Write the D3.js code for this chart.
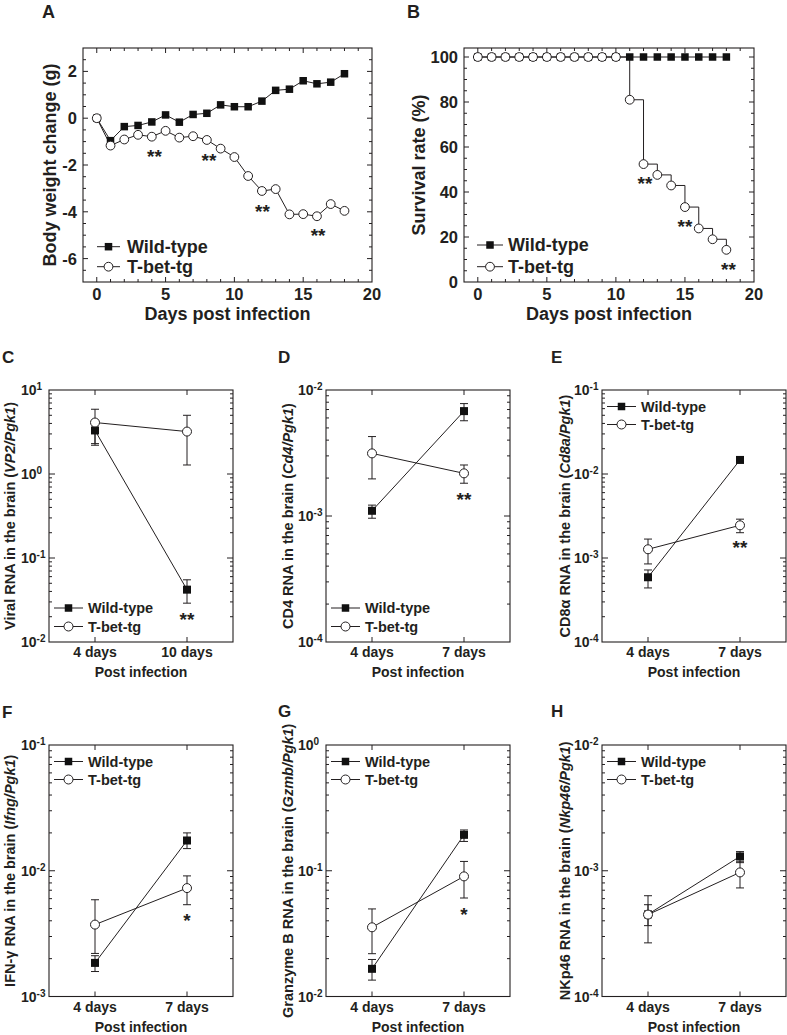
<!DOCTYPE html>
<html><head><meta charset="utf-8">
<script src="https://cdn.jsdelivr.net/npm/d3@7"></script>
<style>
body{margin:0;background:#fff}
svg{display:block}
text{font-family:"Liberation Sans",Arial,Helvetica,sans-serif;font-weight:bold;fill:#231f20}
</style>
</head><body>
<svg id="fig" width="787" height="1035"></svg>
<script>
// ---------------- DATA ----------------
const days = [0,1,2,3,4,5,6,7,8,9,10,11,12,13,14,15,16,17,18];
const weightWT = [0,-0.96,-0.36,-0.31,-0.16,0.14,-0.17,0.16,0.21,0.57,0.49,0.49,0.73,1.19,1.24,1.6,1.47,1.54,1.9];
const weightTg = [0,-1.17,-0.91,-0.71,-0.79,-0.54,-0.83,-0.77,-0.93,-1.3,-1.66,-2.47,-3.11,-3.03,-4.11,-4.1,-4.19,-3.67,-3.96];
const survWT = [100,100,100,100,100,100,100,100,100,100,100,100,100,100,100,100,100,100,100];
const survTg = [100,100,100,100,100,100,100,100,100,100,100,81,52.4,47.6,42.9,33.3,23.8,19.0,14.3];
const sigA = [{d:4.19,v:-1.44,t:"**"},{d:8.15,v:-1.62,t:"**"},{d:12.04,v:-3.8,t:"**"},{d:16.08,v:-4.82,t:"**"}];
const sigB = [{d:12.1,v:45.8,t:"**"},{d:15.0,v:26.8,t:"**"},{d:18.15,v:7.6,t:"**"}];
const seriesNames = ["Wild-type","T-bet-tg"];

const timesC = ["4 days","10 days"];
const timesDH = ["4 days","7 days"];

const viralWT = [3.3, 0.042],   viralWTlo = [2.2, 0.029],   viralWThi = [4.4, 0.055];
const viralTg = [4.1, 3.2],     viralTglo = [2.3, 1.28],    viralTghi = [5.9, 5.0];
const cd4WT = [1.1e-3, 6.8e-3], cd4WTlo = [0.96e-3, 5.7e-3], cd4WThi = [1.22e-3, 7.8e-3];
const cd4Tg = [3.14e-3, 2.18e-3], cd4Tglo = [1.97e-3, 1.82e-3], cd4Tghi = [4.27e-3, 2.54e-3];
const cd8WT = [5.9e-4, 1.47e-2], cd8WTlo = [4.4e-4, 1.42e-2], cd8WThi = [7.2e-4, 1.52e-2];
const cd8Tg = [1.27e-3, 2.45e-3], cd8Tglo = [8.5e-4, 2.0e-3], cd8Tghi = [1.68e-3, 2.9e-3];
const ifngWT = [1.85e-3, 1.74e-2], ifngWTlo = [1.58e-3, 1.5e-2], ifngWThi = [2.11e-3, 2.0e-2];
const ifngTg = [3.73e-3, 7.28e-3], ifngTglo = [2.2e-3, 5.37e-3], ifngTghi = [5.88e-3, 9.1e-3];
const gzmbWT = [1.66e-2, 0.193], gzmbWTlo = [1.35e-2, 0.171], gzmbWThi = [1.97e-2, 0.211];
const gzmbTg = [3.55e-2, 0.0902], gzmbTglo = [2.19e-2, 0.0607], gzmbTghi = [4.97e-2, 0.1186];
const nkWT = [4.5e-4, 1.3e-3], nkWTlo = [3.66e-4, 1.16e-3], nkWThi = [5.37e-4, 1.42e-3];
const nkTg = [4.48e-4, 9.7e-4], nkTglo = [2.67e-4, 7.3e-4], nkTghi = [6.33e-4, 1.19e-3];

// ---------------- HELPERS ----------------
const INK = "#231f20";
const svg = d3.select("#fig");

function txt(g, x, y, s, fs, anchor) {
  return g.append("text").attr("x", x).attr("y", y).attr("font-size", fs)
    .attr("text-anchor", anchor || "start").text(s);
}
function frame(g, b) {
  g.append("rect").attr("x", b.x0).attr("y", b.y0).attr("width", b.x1 - b.x0).attr("height", b.y1 - b.y0)
    .attr("fill", "none").attr("stroke", INK).attr("stroke-width", 1.1);
}
function tickPath(g, d) {
  g.append("path").attr("d", d).attr("fill", "none").attr("stroke", INK).attr("stroke-width", 1);
}
function square(g, cx, cy, s) {
  g.append("rect").attr("x", cx - s / 2).attr("y", cy - s / 2).attr("width", s).attr("height", s).attr("fill", "#111");
}
function ring(g, cx, cy, r) {
  g.append("circle").attr("cx", cx).attr("cy", cy).attr("r", r).attr("fill", "#fff").attr("stroke", INK).attr("stroke-width", 1);
}
function legend(g, lx0, lx1, rows, tx, fs, sq, r) {
  rows.forEach((ry, i) => {
    g.append("line").attr("x1", lx0).attr("x2", lx1).attr("y1", ry).attr("y2", ry).attr("stroke", INK).attr("stroke-width", 1);
    const mx = (lx0 + lx1) / 2;
    if (i === 0) square(g, mx, ry, sq); else ring(g, mx, ry, r);
    txt(g, tx, ry + fs * 0.36, seriesNames[i], fs);
  });
}
function stars(g, x, y, s, fs) {
  txt(g, x, y + fs * 0.58, s, fs, "middle");
}
function rotTitle(g, bx, cy, fs, parts) {
  const t = g.append("text").attr("transform", `translate(${bx},${cy}) rotate(-90)`)
    .attr("text-anchor", "middle").attr("font-size", fs);
  parts.forEach(p => {
    const ts = t.append("tspan").text(p.s);
    if (p.i) ts.attr("font-style", "italic");
  });
}

// ---------------- LINEAR PANELS (A, B) ----------------
function linearPanel(cfg) {
  const g = svg.append("g");
  const b = cfg.box;
  const x = d3.scaleLinear().domain(cfg.xdom).range([b.x0, b.x1]);
  const y = d3.scaleLinear().domain(cfg.ydom).range([b.y1, b.y0]);
  frame(g, b);
  let d = "";
  x.ticks(21).filter(v => v >= 0 && v < cfg.xdom[1]).forEach(v => {
    const L = v % 5 === 0 ? 5 : 3, X = x(v);
    d += `M${X},${b.y1}V${b.y1 - L}M${X},${b.y0}V${b.y0 + L}`;
  });
  cfg.yminor.filter(v => v > cfg.ydom[0] && v < cfg.ydom[1]).forEach(v => {
    const L = cfg.ymajor.includes(v) ? 5 : 3, Y = y(v);
    d += `M${b.x0},${Y}H${b.x0 + L}M${b.x1},${Y}H${b.x1 - L}`;
  });
  tickPath(g, d);
  cfg.ymajor.forEach(v => txt(g, b.x0 - 6, y(v) + 6, String(v), 16.5, "end"));
  x.ticks(5).forEach(v => txt(g, x(v), b.y1 + 18, String(v), 16.5, "middle"));
  txt(g, (b.x0 + b.x1) / 2, b.y1 + 38, "Days post infection", 18, "middle");
  rotTitle(g, cfg.titleX, (b.y0 + b.y1) / 2, 18, [{s: cfg.ytitle}]);
  txt(g, cfg.lab[0], cfg.lab[1], cfg.lab[2], 18);

  const curve = cfg.step ? d3.curveStepAfter : d3.curveLinear;
  [cfg.wt, cfg.tg].forEach(vals => {
    const line = d3.line().x((v, i) => x(days[i])).y(v => y(v)).curve(curve);
    g.append("path").attr("d", line(vals)).attr("fill", "none").attr("stroke", INK).attr("stroke-width", 1);
  });
  cfg.wt.forEach((v, i) => square(g, x(days[i]), y(v), 7.5));
  cfg.tg.forEach((v, i) => ring(g, x(days[i]), y(v), 4.4));
  cfg.sig.forEach(s => stars(g, x(s.d), y(s.v), s.t, 19));
  legend(g, cfg.leg[0], cfg.leg[1], cfg.leg[2], cfg.leg[3], 18, 7.5, 4.4);
}

linearPanel({
  box: {x0: 83, x1: 372, y0: 48, y1: 282}, xdom: [-1, 20], ydom: [-7, 3],
  yminor: d3.range(-7, 3.01, 0.5), ymajor: [-6, -4, -2, 0, 2],
  ytitle: "Body weight change (g)", titleX: 56, lab: [42, 18, "A"],
  wt: weightWT, tg: weightTg, sig: sigA, step: false,
  leg: [97, 120, [246.7, 266.7], 127]
});
linearPanel({
  box: {x0: 464, x1: 754, y0: 48, y1: 282}, xdom: [-1, 20], ydom: [0, 104],
  yminor: d3.range(0, 104, 5), ymajor: [0, 20, 40, 60, 80, 100],
  ytitle: "Survival rate (%)", titleX: 425, lab: [407, 18, "B"],
  wt: survWT, tg: survTg, sig: sigB, step: true,
  leg: [477, 503, [245, 266.7], 508]
});

// ---------------- LOG PANELS (C-H) ----------------
function logPanel(cfg) {
  const g = svg.append("g");
  const b = cfg.box;
  const x = d3.scalePoint().domain(cfg.cats).range([b.x0, b.x1]).padding(0.5);
  const y = d3.scaleLog().domain(cfg.ydom).range([b.y1, b.y0]);
  frame(g, b);
  let d = "";
  const isMajor = v => Math.abs(Math.log10(v) - Math.round(Math.log10(v))) < 1e-6;
  y.ticks().forEach(v => {
    if (y(v) <= b.y0 + 0.5 || y(v) >= b.y1 - 0.5) return;
    const L = isMajor(v) ? 6 : 3, Y = y(v);
    d += `M${b.x0},${Y}H${b.x0 + L}M${b.x1},${Y}H${b.x1 - L}`;
  });
  cfg.cats.forEach(c => {
    const X = x(c);
    d += `M${X},${b.y1}V${b.y1 - 5}M${X},${b.y0}V${b.y0 + 5}`;
  });
  tickPath(g, d);
  y.ticks().filter(isMajor).forEach(v => {
    const t = g.append("text").attr("x", b.x0 - 28).attr("y", y(v) + 5).attr("font-size", 14);
    t.append("tspan").text("10");
    t.append("tspan").attr("dy", -5).attr("font-size", 10).text(String(Math.round(Math.log10(v))));
  });
  cfg.cats.forEach(c => txt(g, x(c), b.y1 + 15, c, 14, "middle"));
  txt(g, (b.x0 + b.x1) / 2, b.y1 + 35, "Post infection", 14, "middle");
  rotTitle(g, cfg.titleX, (b.y0 + b.y1) / 2, 14.5, cfg.ytitle);
  txt(g, cfg.lab[0], cfg.lab[1], cfg.lab[2], 17);

  const sets = [cfg.wt, cfg.tg];
  sets.forEach(s => {
    const line = d3.line().x((v, i) => x(cfg.cats[i])).y(v => y(v));
    g.append("path").attr("d", line(s.v)).attr("fill", "none").attr("stroke", INK).attr("stroke-width", 1);
  });
  sets.forEach(s => {
    let e = "";
    s.v.forEach((v, i) => {
      const X = x(cfg.cats[i]), Yh = y(s.hi[i]), Yl = y(s.lo[i]);
      e += `M${X},${Yl}V${Yh}M${X - 4},${Yh}H${X + 4}M${X - 4},${Yl}H${X + 4}`;
    });
    tickPath(g, e);
  });
  cfg.wt.v.forEach((v, i) => square(g, x(cfg.cats[i]), y(v), 8));
  cfg.tg.v.forEach((v, i) => ring(g, x(cfg.cats[i]), y(v), 4.5));
  if (cfg.sig) stars(g, x(cfg.cats[cfg.sig.i]), y(cfg.sig.v), cfg.sig.t, 19);

  const rows = cfg.legTop ? [b.y0 + 16.5, b.y0 + 34.5] : [b.y1 - 34, b.y1 - 15.5];
  legend(g, b.x0 + 5, b.x0 + 34, rows, b.x0 + 39, 14.5, 7.5, 4.5);
}

const rowTop = {y0: 390, y1: 642}, rowBot = {y0: 745, y1: 996.5};
const cols = [{x0: 49, x1: 233}, {x0: 326, x1: 510}, {x0: 602, x1: 786}];

logPanel({
  box: {...cols[0], ...rowTop}, cats: timesC, ydom: [1e-2, 10],
  wt: {v: viralWT, lo: viralWTlo, hi: viralWThi}, tg: {v: viralTg, lo: viralTglo, hi: viralTghi},
  ytitle: [{s: "Viral RNA in the brain ("}, {s: "VP2/Pgk1", i: true}, {s: ")"}],
  titleX: 14.5, lab: [2, 363, "C"], sig: {i: 1, v: 0.021, t: "**"}, legTop: false
});
logPanel({
  box: {...cols[1], ...rowTop}, cats: timesDH, ydom: [1e-4, 1e-2],
  wt: {v: cd4WT, lo: cd4WTlo, hi: cd4WThi}, tg: {v: cd4Tg, lo: cd4Tglo, hi: cd4Tghi},
  ytitle: [{s: "CD4 RNA in the brain ("}, {s: "Cd4/Pgk1", i: true}, {s: ")"}],
  titleX: 292.5, lab: [278, 363, "D"], sig: {i: 1, v: 1.47e-3, t: "**"}, legTop: false
});
logPanel({
  box: {...cols[2], ...rowTop}, cats: timesDH, ydom: [1e-4, 1e-1],
  wt: {v: cd8WT, lo: cd8WTlo, hi: cd8WThi}, tg: {v: cd8Tg, lo: cd8Tglo, hi: cd8Tghi},
  ytitle: [{s: "CD8\u03B1 RNA in the brain ("}, {s: "Cd8a/Pgk1", i: true}, {s: ")"}],
  titleX: 570, lab: [551, 363, "E"], sig: {i: 1, v: 1.5e-3, t: "**"}, legTop: true
});
logPanel({
  box: {...cols[0], ...rowBot}, cats: timesDH, ydom: [1e-3, 1e-1],
  wt: {v: ifngWT, lo: ifngWTlo, hi: ifngWThi}, tg: {v: ifngTg, lo: ifngTglo, hi: ifngTghi},
  ytitle: [{s: "IFN-\u03B3 RNA in the brain ("}, {s: "Ifng/Pgk1", i: true}, {s: ")"}],
  titleX: 14.5, lab: [2, 718, "F"], sig: {i: 1, v: 4.34e-3, t: "*"}, legTop: true
});
logPanel({
  box: {...cols[1], ...rowBot}, cats: timesDH, ydom: [1e-2, 1],
  wt: {v: gzmbWT, lo: gzmbWTlo, hi: gzmbWThi}, tg: {v: gzmbTg, lo: gzmbTglo, hi: gzmbTghi},
  ytitle: [{s: "Granzyme B RNA in the brain ("}, {s: "Gzmb/Pgk1", i: true}, {s: ")"}],
  titleX: 292.5, lab: [278, 717, "G"], sig: {i: 1, v: 0.049, t: "*"}, legTop: true
});
logPanel({
  box: {...cols[2], ...rowBot}, cats: timesDH, ydom: [1e-4, 1e-2],
  wt: {v: nkWT, lo: nkWTlo, hi: nkWThi}, tg: {v: nkTg, lo: nkTglo, hi: nkTghi},
  ytitle: [{s: "NKp46 RNA in the brain ("}, {s: "Nkp46/Pgk1", i: true}, {s: ")"}],
  titleX: 570, lab: [551, 717, "H"], sig: null, legTop: true
});
</script>
</body></html>
